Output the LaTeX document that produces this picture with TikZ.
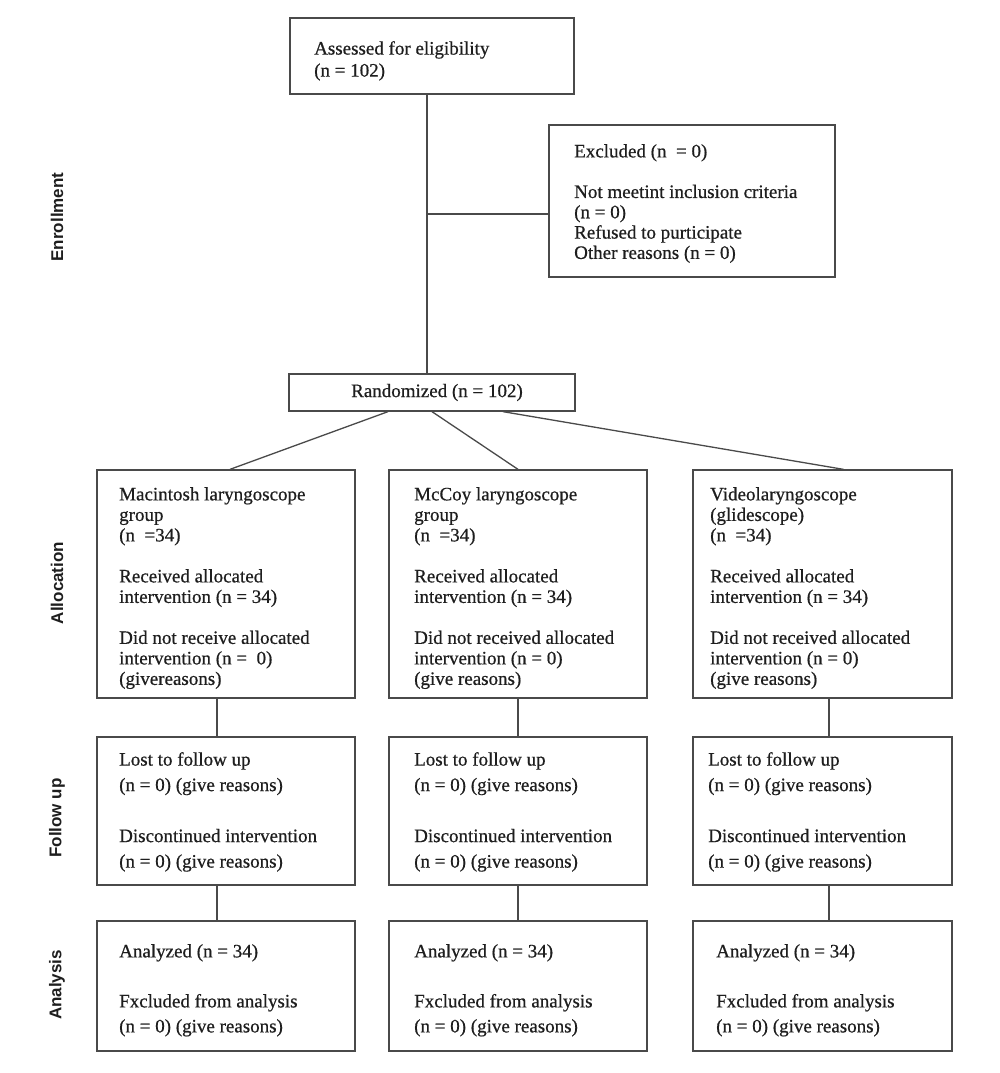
\documentclass[tikz,border=0pt]{standalone}
\usepackage{fontspec}
\setmainfont{Liberation Serif}[UprightFeatures={FakeBold=0.6}]
\newfontfamily\sidefont{Liberation Sans}
\definecolor{linegray}{HTML}{4A4A4A}
\definecolor{textcol}{HTML}{1E1E1E}
\begin{document}
\begin{tikzpicture}[x=1pt,y=-1pt,
  box/.style={draw=linegray, line width=1.3pt, rectangle, inner sep=0pt},
  conn/.style={draw=linegray, line width=1.3pt},
  txt/.style={anchor=north west, inner sep=0pt, align=left, text=textcol,
    font=\fontsize{19}{20.5}\selectfont},
  side/.style={rotate=90, inner sep=0pt, text=textcol,
    font=\sidefont\bfseries\fontsize{17}{20}\selectfont}]
\useasboundingbox[fill=white] (0,0) rectangle (1000,1073);

% boxes
\node[box, minimum width=284pt, minimum height=76pt] (assess) at (432,56) {};
\node[box, minimum width=286pt, minimum height=152pt] (excl) at (692,201) {};
\node[box, minimum width=286pt, minimum height=37pt, text=textcol,
  font=\fontsize{19}{20.5}\selectfont] (rand) at (432,392.5) {\hspace*{10pt}Randomized (n = 102)};
\node[box, minimum width=258pt, minimum height=228pt] (g1) at (226,584) {};
\node[box, minimum width=258pt, minimum height=228pt] (g2) at (518,584) {};
\node[box, minimum width=259pt, minimum height=228pt] (g3) at (822.5,584) {};
\node[box, minimum width=258pt, minimum height=148pt] (f1) at (226,811) {};
\node[box, minimum width=258pt, minimum height=148pt] (f2) at (518,811) {};
\node[box, minimum width=259pt, minimum height=148pt] (f3) at (822.5,811) {};
\node[box, minimum width=258pt, minimum height=130pt] (a1) at (226,986) {};
\node[box, minimum width=258pt, minimum height=130pt] (a2) at (518,986) {};
\node[box, minimum width=259pt, minimum height=130pt] (a3) at (822.5,986) {};

% texts
\node[txt, font=\fontsize{19}{22}\selectfont] (tassess) at (314,41)
  {Assessed for eligibility\\(n = 102)};
\node[txt, font=\fontsize{19}{20.3}\selectfont] (texcl) at (574,144)
  {Excluded (n \ = 0)\\[20.3pt]Not meetint inclusion criteria\\(n = 0)\\Refused to purticipate\\Other reasons (n = 0)};

\node[txt] (tg1) at (119,487)
  {Macintosh laryngoscope\\group\\(n \ =34)\\[20.5pt]Received allocated\\intervention (n = 34)\\[20.5pt]Did not receive allocated\\intervention (n = \ 0)\\(givereasons)};
\node[txt] (tg2) at (414,487)
  {McCoy laryngoscope\\group\\(n \ =34)\\[20.5pt]Received allocated\\intervention (n = 34)\\[20.5pt]Did not received allocated\\intervention (n = 0)\\(give reasons)};
\node[txt] (tg3) at (710,487)
  {Videolaryngoscope\\(glidescope)\\(n \ =34)\\[20.5pt]Received allocated\\intervention (n = 34)\\[20.5pt]Did not received allocated\\intervention (n = 0)\\(give reasons)};

\foreach \n/\x in {1/119, 2/414, 3/708}{
  \node[txt, font=\fontsize{19}{25.5}\selectfont] (tf\n) at (\x,752)
    {Lost to follow up\\(n = 0) (give reasons)\\[25.5pt]Discontinued intervention\\(n = 0) (give reasons)};
}
\foreach \n/\x in {1/119, 2/414, 3/716}{
  \node[txt, font=\fontsize{19}{25}\selectfont] (ta\n) at (\x,944)
    {Analyzed (n = 34)\\[25pt]Fxcluded from analysis\\(n = 0) (give reasons)};
}

% side labels
\node[side] (lenr) at (57,217) {Enrollment};
\node[side] (lall) at (57,583) {Allocation};
\node[side] (lfol) at (57,818) {Follow up};
\node[side] (lana) at (57,985) {Analysis};

% connectors
\coordinate (trunktop) at ([xshift=-5pt]assess.south);
\draw[conn] (trunktop) -- (trunktop |- rand.north);
\draw[conn] ([yshift=-13pt]excl.west) -- ([yshift=-13pt]excl.west -| trunktop);
\draw[conn] ([xshift=-44pt]rand.south) -- ([xshift=4pt]g1.north);
\draw[conn] (rand.south) -- (g2.north);
\draw[conn] ([xshift=71pt]rand.south) -- ([xshift=21pt]g3.north);

\draw[conn] ([xshift=-9pt]g1.south) -- ([xshift=-9pt]f1.north);
\draw[conn] (g2.south) -- (f2.north);
\draw[conn] ([xshift=6.5pt]g3.south) -- ([xshift=6.5pt]f3.north);
\draw[conn] ([xshift=-9pt]f1.south) -- ([xshift=-9pt]a1.north);
\draw[conn] (f2.south) -- (a2.north);
\draw[conn] ([xshift=6.5pt]f3.south) -- ([xshift=6.5pt]a3.north);
\end{tikzpicture}
\end{document}
